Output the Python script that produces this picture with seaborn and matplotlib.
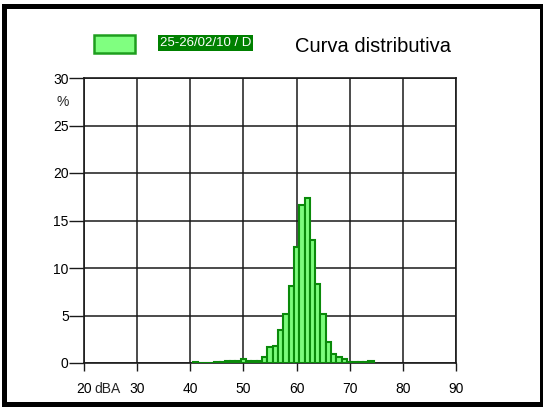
import matplotlib
matplotlib.use("Agg")
import matplotlib.pyplot as plt
from matplotlib.patches import Rectangle
import matplotlib.transforms as mtransforms
import seaborn as sns
import numpy as np

# Data: sound level (dBA, 1 dB classes) and percentage of time
levels = [41, 42, 43, 44, 45, 46, 47, 48, 49, 50, 51, 52, 53, 54, 55, 56, 57,
          58, 59, 60, 61, 62, 63, 64, 65, 66, 67, 68, 69, 70, 71, 72, 73, 74]
percent = [0.15, 0.05, 0.05, 0.05, 0.12, 0.15, 0.25, 0.25, 0.25, 0.45, 0.25, 0.25,
           0.25, 0.65, 1.7, 1.8, 3.45, 5.2, 8.1, 12.2, 16.6, 17.4, 12.9, 8.3,
           5.2, 2.2, 0.92, 0.68, 0.45, 0.15, 0.08, 0.08, 0.08, 0.18]
series_label = "25-26/02/10 / D"
title = "Curva distributiva"
xticks = [20, 30, 40, 50, 60, 70, 80, 90]
yticks = [0, 5, 10, 15, 20, 25, 30]

sns.set_style("white")
plt.rcParams['font.family'] = ['Liberation Sans', 'DejaVu Sans']

W, H = 543, 407
fig = plt.figure(figsize=(W / 100, H / 100), dpi=100)
ax = fig.add_axes([84 / W, 1 - 363 / H, (456 - 84) / W, (363 - 78) / H])

sns.histplot(x=levels, weights=percent, discrete=True, shrink=1.0, ax=ax,
             color="#7CFC7C", edgecolor="#0A8A0A", linewidth=1.5, alpha=1.0,
             zorder=3)

ax.set_xlim(20, 90)
ax.set_ylim(0, 30)
ax.set_xticks(xticks)
ax.set_yticks(yticks)
ax.set_xticklabels([str(t) for t in xticks])
ax.set_yticklabels([str(t) for t in yticks])
ax.set_xlabel("")
ax.set_ylabel("")

ax.grid(True, color="#1a1a1a", linewidth=1.1, zorder=1)
ax.set_axisbelow(True)
for s in ax.spines.values():
    s.set_color("#1a1a1a")
    s.set_linewidth(1.2)
    s.set_visible(True)

XT_LEN, XT_PAD = 5.5, 8.5
ax.tick_params(axis='y', which='both', left=True, length=11, width=1.0,
               color="#1a1a1a", pad=0, labelsize=10, labelcolor="black")
ax.tick_params(axis='x', which='both', bottom=True, length=XT_LEN, width=1.0,
               color="#1a1a1a", pad=XT_PAD, labelsize=10, labelcolor="black")

# unit labels
dba_tr = mtransforms.offset_copy(ax.get_xaxis_transform(), fig=fig,
                                 x=0, y=-(XT_LEN + XT_PAD), units='points')
ax.text(24.5, 0, "dBA", fontsize=10, ha="center", va="top",
        transform=dba_tr, clip_on=False)
ax.text(-0.056, 27.5, "%", fontsize=10, ha="center", va="center",
        transform=ax.get_yaxis_transform(), clip_on=False)

# legend swatch and label
fig.add_artist(Rectangle((94 / W, 1 - 53 / H), 41 / W, 18 / H,
                         transform=fig.transFigure, facecolor="#80FF80",
                         edgecolor="#1E9E1E", linewidth=1.8))
fig.text(160 / W, 1 - 43 / H, series_label, fontsize=9.5, color="white",
         ha="left", va="center",
         bbox=dict(boxstyle="square,pad=0.12", facecolor="#008000",
                   edgecolor="none"))
fig.text(295 / W, 1 - 46 / H, title, fontsize=14.5, color="black",
         ha="left", va="center")

# outer frame
frame = dict(transform=fig.transFigure, facecolor="black", edgecolor="none")
fig.add_artist(Rectangle((2 / W, 0), 5 / W, 1 - 4 / H, **frame))
fig.add_artist(Rectangle((2 / W, 1 - 9 / H), 1 - 2 / W, 5 / H, **frame))
fig.add_artist(Rectangle((540 / W, 0), 3 / W, 1 - 4 / H, **frame))
fig.add_artist(Rectangle((2 / W, 0), 1 - 2 / W, 5 / H, **frame))

fig.savefig("out.png", dpi=100)
